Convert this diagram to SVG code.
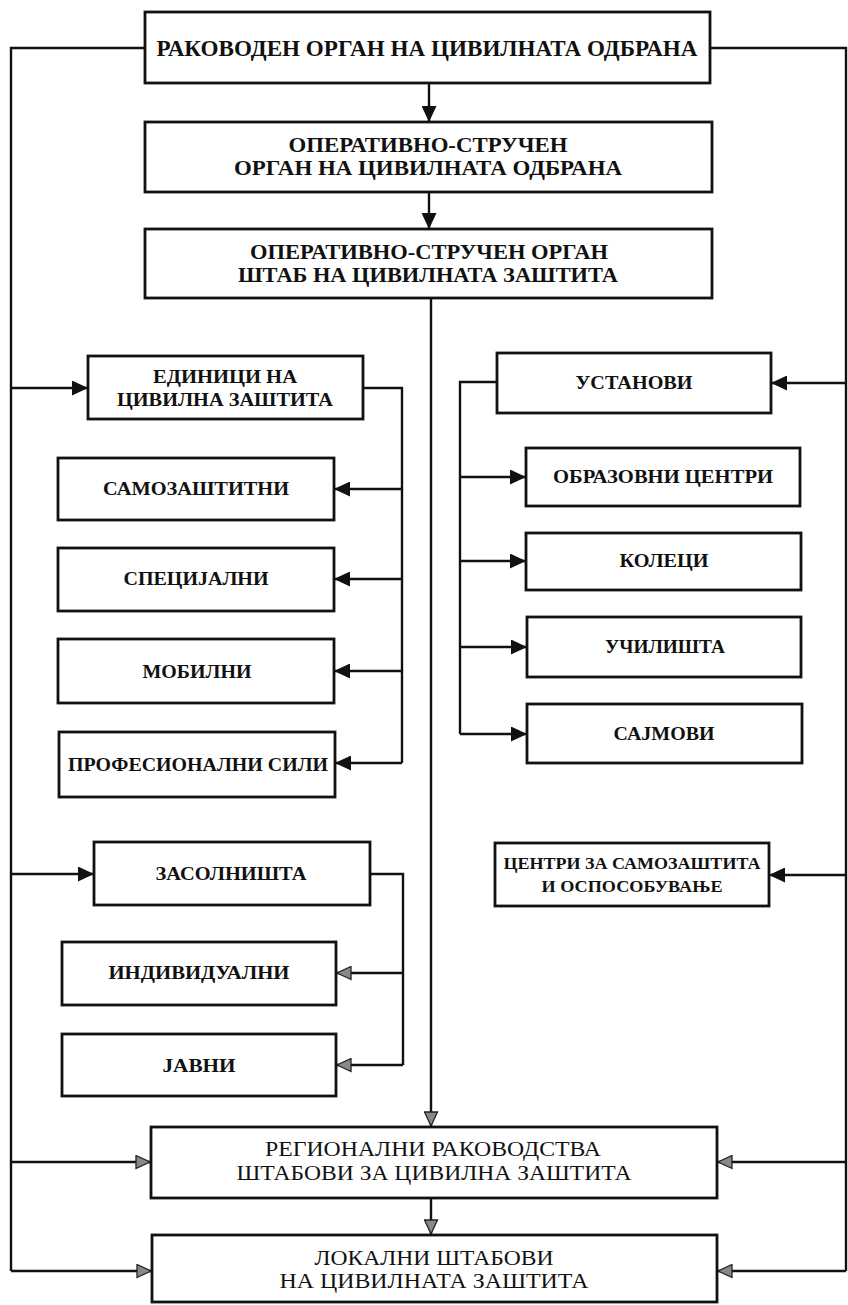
<svg xmlns="http://www.w3.org/2000/svg" width="848" height="1305" viewBox="0 0 848 1305">
<style>
.box{fill:#fff;stroke:#111;stroke-width:2.8}
.ln{fill:none;stroke:#111;stroke-width:2.4}
.t{font-family:"Liberation Serif","Times New Roman",serif;text-anchor:middle;fill:#111}
.hb{font-size:22px;font-weight:bold}
.top{font-size:24px;font-weight:bold}
.mb{font-size:19px;font-weight:bold}
.sb{font-size:17px;font-weight:bold}
.rg{font-size:21px}
</style>
<defs>
<marker id="ab" markerUnits="userSpaceOnUse" markerWidth="17" markerHeight="15" refX="16" refY="7.5" orient="auto">
<path d="M0,0 L16,7.5 L0,15 z" fill="#111"/>
</marker>
<marker id="ag" markerUnits="userSpaceOnUse" markerWidth="17" markerHeight="15" refX="16" refY="7.5" orient="auto">
<path d="M1,1 L15,7.5 L1,14 z" fill="#888" stroke="#222" stroke-width="1.3"/>
</marker>
</defs>
<rect width="848" height="1305" fill="#fff"/>
<g id="connectors">
<path class="ln" d="M145,48 H11 V1271"/>
<path class="ln" d="M710,48 H846 V1271"/>
<path class="ln" d="M429,83 V122" marker-end="url(#ab)"/>
<path class="ln" d="M429,192 V229" marker-end="url(#ab)"/>
<path class="ln" d="M431,298 V1127" marker-end="url(#ag)"/>
<path class="ln" d="M431,1198 V1235" marker-end="url(#ag)"/>
<path class="ln" d="M11,388 H88" marker-end="url(#ab)"/>
<path class="ln" d="M11,874 H94" marker-end="url(#ab)"/>
<path class="ln" d="M11,1162 H151" marker-end="url(#ag)"/>
<path class="ln" d="M11,1271 H152" marker-end="url(#ag)"/>
<path class="ln" d="M846,383 H771" marker-end="url(#ab)"/>
<path class="ln" d="M846,875 H769" marker-end="url(#ab)"/>
<path class="ln" d="M846,1162 H717" marker-end="url(#ag)"/>
<path class="ln" d="M846,1271 H717" marker-end="url(#ag)"/>
<path class="ln" d="M363,388 H402 V763"/>
<path class="ln" d="M402,489 H334" marker-end="url(#ab)"/>
<path class="ln" d="M402,579 H334" marker-end="url(#ab)"/>
<path class="ln" d="M402,671 H334" marker-end="url(#ab)"/>
<path class="ln" d="M402,763 H335" marker-end="url(#ab)"/>
<path class="ln" d="M370,874 H403 V1065"/>
<path class="ln" d="M403,973 H336" marker-end="url(#ag)"/>
<path class="ln" d="M403,1065 H336" marker-end="url(#ag)"/>
<path class="ln" d="M497,382 H460 V734"/>
<path class="ln" d="M460,477 H526" marker-end="url(#ab)"/>
<path class="ln" d="M460,561 H526" marker-end="url(#ab)"/>
<path class="ln" d="M460,647 H527" marker-end="url(#ab)"/>
<path class="ln" d="M460,734 H527" marker-end="url(#ab)"/>
</g>
<g id="n-rakoveden"><rect class="box" x="145" y="12" width="565" height="71"/>
<text class="t top" x="427" y="56" textLength="541" lengthAdjust="spacingAndGlyphs">РАКОВОДЕН ОРГАН НА ЦИВИЛНАТА ОДБРАНА</text></g>
<g id="n-operativen-odbrana"><rect class="box" x="145" y="122" width="567" height="70"/>
<text class="t hb" x="428" y="152" textLength="279" lengthAdjust="spacingAndGlyphs">ОПЕРАТИВНО-СТРУЧЕН</text>
<text class="t hb" x="428" y="175" textLength="388" lengthAdjust="spacingAndGlyphs">ОРГАН НА ЦИВИЛНАТА ОДБРАНА</text></g>
<g id="n-shtab"><rect class="box" x="145" y="229" width="567" height="69"/>
<text class="t hb" x="429" y="259" textLength="358" lengthAdjust="spacingAndGlyphs">ОПЕРАТИВНО-СТРУЧЕН ОРГАН</text>
<text class="t hb" x="428" y="282" textLength="380" lengthAdjust="spacingAndGlyphs">ШТАБ НА ЦИВИЛНАТА ЗАШТИТА</text></g>
<g id="n-edinici"><rect class="box" x="88" y="356" width="275" height="63"/>
<text class="t mb" x="225" y="383" textLength="144" lengthAdjust="spacingAndGlyphs">ЕДИНИЦИ НА</text>
<text class="t mb" x="225" y="406" textLength="216" lengthAdjust="spacingAndGlyphs">ЦИВИЛНА ЗАШТИТА</text></g>
<g id="n-samozashtitni"><rect class="box" x="58" y="458" width="276" height="62"/>
<text class="t mb" x="196" y="495" textLength="186" lengthAdjust="spacingAndGlyphs">САМОЗАШТИТНИ</text></g>
<g id="n-specijalni"><rect class="box" x="58" y="548" width="276" height="63"/>
<text class="t mb" x="196" y="585" textLength="145" lengthAdjust="spacingAndGlyphs">СПЕЦИЈАЛНИ</text></g>
<g id="n-mobilni"><rect class="box" x="58" y="639" width="276" height="64"/>
<text class="t mb" x="197" y="678" textLength="109" lengthAdjust="spacingAndGlyphs">МОБИЛНИ</text></g>
<g id="n-profesionalni"><rect class="box" x="59" y="732" width="276" height="65"/>
<text class="t mb" x="198" y="771" textLength="260" lengthAdjust="spacingAndGlyphs">ПРОФЕСИОНАЛНИ СИЛИ</text></g>
<g id="n-zasolnishta"><rect class="box" x="94" y="842" width="276" height="63"/>
<text class="t mb" x="231" y="880" textLength="151" lengthAdjust="spacingAndGlyphs">ЗАСОЛНИШТА</text></g>
<g id="n-individualni"><rect class="box" x="62" y="942" width="274" height="63"/>
<text class="t mb" x="199" y="979" textLength="181" lengthAdjust="spacingAndGlyphs">ИНДИВИДУАЛНИ</text></g>
<g id="n-javni"><rect class="box" x="62" y="1034" width="274" height="62"/>
<text class="t mb" x="199" y="1072" textLength="73" lengthAdjust="spacingAndGlyphs">ЈАВНИ</text></g>
<g id="n-ustanovi"><rect class="box" x="497" y="353" width="274" height="60"/>
<text class="t mb" x="634" y="389" textLength="117" lengthAdjust="spacingAndGlyphs">УСТАНОВИ</text></g>
<g id="n-obrazovni"><rect class="box" x="526" y="448" width="274" height="58"/>
<text class="t mb" x="663" y="483" textLength="220" lengthAdjust="spacingAndGlyphs">ОБРАЗОВНИ ЦЕНТРИ</text></g>
<g id="n-koleci"><rect class="box" x="526" y="533" width="275" height="57"/>
<text class="t mb" x="664" y="567" textLength="89" lengthAdjust="spacingAndGlyphs">КОЛЕЦИ</text></g>
<g id="n-uchilishta"><rect class="box" x="527" y="617" width="274" height="60"/>
<text class="t mb" x="665" y="653" textLength="120" lengthAdjust="spacingAndGlyphs">УЧИЛИШТА</text></g>
<g id="n-sajmovi"><rect class="box" x="527" y="704" width="275" height="59"/>
<text class="t mb" x="664" y="740" textLength="101" lengthAdjust="spacingAndGlyphs">САЈМОВИ</text></g>
<g id="n-centri"><rect class="box" x="495" y="843" width="274" height="63"/>
<text class="t sb" x="632" y="869" textLength="257" lengthAdjust="spacingAndGlyphs">ЦЕНТРИ ЗА САМОЗАШТИТА</text>
<text class="t sb" x="632" y="892" textLength="181" lengthAdjust="spacingAndGlyphs">И ОСПОСОБУВАЊЕ</text></g>
<g id="n-regionalni"><rect class="box" x="151" y="1127" width="566" height="71"/>
<text class="t rg" x="433" y="1156" textLength="336" lengthAdjust="spacingAndGlyphs">РЕГИОНАЛНИ РАКОВОДСТВА</text>
<text class="t rg" x="434" y="1180" textLength="395" lengthAdjust="spacingAndGlyphs">ШТАБОВИ ЗА ЦИВИЛНА ЗАШТИТА</text></g>
<g id="n-lokalni"><rect class="box" x="152" y="1235" width="565" height="67"/>
<text class="t rg" x="434" y="1265" textLength="239" lengthAdjust="spacingAndGlyphs">ЛОКАЛНИ ШТАБОВИ</text>
<text class="t rg" x="434" y="1288" textLength="309" lengthAdjust="spacingAndGlyphs">НА ЦИВИЛНАТА ЗАШТИТА</text></g>
</svg>
